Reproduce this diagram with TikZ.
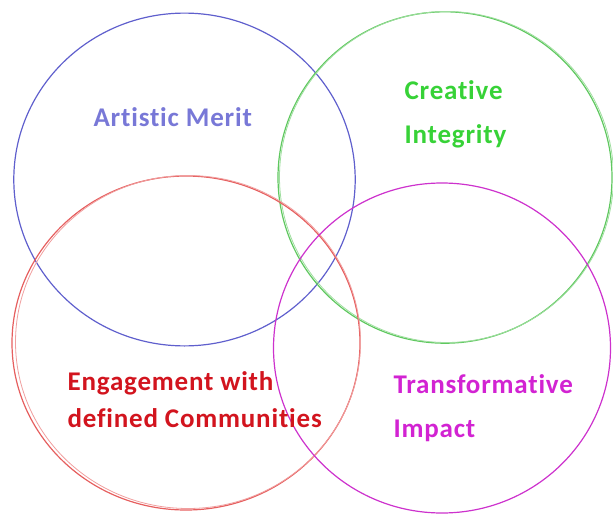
\documentclass[tikz,border=0pt]{standalone}
\usepackage{fontspec}
\setmainfont{Carlito}[Ligatures=NoCommon,LetterSpace=3]
\usetikzlibrary{positioning}

\definecolor{amblue}{RGB}{95,95,205}
\definecolor{amtext}{RGB}{120,120,215}
\definecolor{cigreen}{RGB}{95,200,95}
\definecolor{citext}{RGB}{55,210,55}
\definecolor{edred}{RGB}{230,95,95}
\definecolor{edtext}{RGB}{210,20,30}
\definecolor{timag}{RGB}{205,50,205}
\definecolor{titext}{RGB}{210,35,210}

\begin{document}
\begin{tikzpicture}[x=1pt,y=-1pt,line width=1.2pt]
  \tikzstyle{label}=[anchor=west,align=left,inner sep=0pt,font=\bfseries\fontsize{27}{44}\selectfont]
  \useasboundingbox (0,0) rectangle (613,514);

  % the four circles
  \draw[amblue] (184.5,179.5) ellipse (170.7 and 166.4);
  \draw[cigreen] (445,177.5) ellipse (167 and 165.7);
  \draw[cigreen!60,line width=0.8pt] (446.5,177) ellipse (167 and 165.5);
  \draw[edred] (186,343) ellipse (174 and 167);
  \draw[edred!60,line width=0.8pt] (188,342) ellipse (172.5 and 166.5);
  \draw[timag] (442,348) ellipse (168.5 and 165);

  % labels
  \node[label,text=amtext] (AM) at (93,117) {Artistic Merit};
  \node[label,text=citext] (CI) at (404,114.5) {Creative\\Integrity};
  \node[label,text=edtext,font=\bfseries\fontsize{27}{37}\selectfont] (EC) at (67,399.5) {Engagement with\\defined Communities};
  \node[label,text=titext] (TI) at (393,408.5) {Transformative\\Impact};
\end{tikzpicture}
\end{document}
